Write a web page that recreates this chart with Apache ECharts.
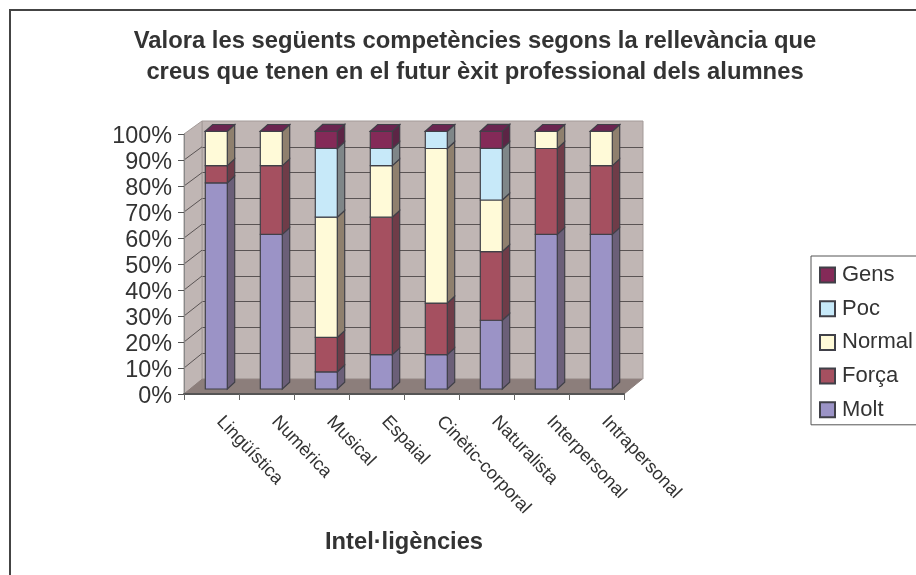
<!DOCTYPE html>
<html><head><meta charset="utf-8">
<style>html,body{margin:0;padding:0;background:#fff}#c{width:916px;height:575px}</style>
<script src="https://cdn.jsdelivr.net/npm/echarts@6/dist/echarts.min.js"></script>
</head><body><div id="c"></div>
<script>
const categories = ['Lingüística','Numèrica','Musical','Espaial','Cinètic-corporal','Naturalista','Interpersonal','Intrapersonal'];
const molt   = [80, 60, 6.67, 13.33, 13.33, 26.67, 60, 60];
const forca  = [6.67, 26.67, 13.33, 53.33, 20, 26.67, 33.33, 26.67];
const normal = [13.33, 13.33, 46.67, 20, 60, 20, 6.67, 13.33];
const poc    = [0, 0, 26.67, 6.67, 6.67, 20, 0, 0];
const gens   = [0, 0, 6.67, 6.67, 0, 6.67, 0, 0];
const seriesNames = ['Molt','Força','Normal','Poc','Gens'];
const seriesValues = [molt, forca, normal, poc, gens];
const faceColors = ['#9b93c6','#a55060','#fffad8','#c7e9f9','#842a58'];
const sideColors = ['#6b5f78','#6f3c48','#8f806e','#7f8688','#5c2545'];
const topColor = '#6b2550';
const edge = '#404048';
const barW = 22, bdx = 7.4, bdy = -6.8;

const chart = echarts.init(document.getElementById('c'), null, {renderer:'canvas'});

const stacked = seriesValues.map((vals, s) => vals.map((v, i) => {
  let base = 0;
  for (let k = 0; k < s; k++) base += seriesValues[k][i];
  return [i, base, base + v];
}));

function barItem(s) {
  return function (params, api) {
    const c = api.coord([api.value(0), api.value(1)]);
    const t = api.coord([api.value(0), api.value(2)]);
    const x1 = c[0] - barW / 2, x2 = c[0] + barW / 2, y0 = c[1], y1 = t[1];
    const st = {stroke: edge, lineWidth: 1.2};
    const children = [];
    if (y0 - y1 > 0.1) {
      children.push({type:'polygon', shape:{points:[[x2,y0],[x2+bdx,y0+bdy],[x2+bdx,y1+bdy],[x2,y1]]}, style:Object.assign({fill:sideColors[s]}, st)});
      children.push({type:'rect', shape:{x:x1,y:y1,width:barW,height:y0-y1}, style:Object.assign({fill:faceColors[s]}, st)});
    }
    if (s === seriesValues.length - 1) {
      children.push({type:'polygon', shape:{points:[[x1,y1],[x1+bdx,y1+bdy],[x2+bdx,y1+bdy],[x2,y1]]}, style:Object.assign({fill:topColor}, st)});
    }
    return {type:'group', children};
  };
}

// side wall and floor, from the front plane axes to the back wall
function shellItem(params, api) {
  const p00 = api.coord([0, 0]), p01 = api.coord([0, 100]), p10 = api.coord([categories.length, 0]);
  const dx = 18, dyb = -14.7, dyt = -13;
  const children = [
    {type:'polygon', shape:{points:[p00,p01,[p01[0]+dx,p01[1]+dyt],[p00[0]+dx,p00[1]+dyb]]}, style:{fill:'#c0b6b4', stroke:'#a39a98', lineWidth:1}},
    {type:'polygon', shape:{points:[p00,p10,[p10[0]+dx,p10[1]+dyb],[p00[0]+dx,p00[1]+dyb]]}, style:{fill:'#8c7e7b', stroke:'#8c7e7b', lineWidth:1}}
  ];
  for (let v = 10; v <= 90; v += 10) {
    const p = api.coord([0, v]);
    const d = dyb + (dyt - dyb) * v / 100;
    children.push({type:'line', shape:{x1:p[0], y1:p[1], x2:p[0]+dx, y2:p[1]+d}, style:{stroke:'#5a5454', lineWidth:1}});
  }
  return {type:'group', children};
}

const xHidden = {type:'category', data:categories, show:false};
const yHidden = {type:'value', min:0, max:100, interval:10, show:false};

const option = {
  animation:false,
  backgroundColor:'#fff',
  textStyle:{fontFamily:'Liberation Sans'},
  title:{
    text:'Valora les següents competències segons la rellevància que\ncreus que tenen en el futur èxit professional dels alumnes',
    left:470, top:21, textAlign:'center',
    textStyle:{fontSize:23.8, fontWeight:'bold', color:'#333', lineHeight:31, fontFamily:'Liberation Sans'}
  },
  legend:{
    orient:'vertical', left:811, top:256,
    data:['Gens','Poc','Normal','Força','Molt'],
    itemWidth:15, itemHeight:15, itemGap:11.7, padding:[8,40,4,8],
    borderColor:'#555', borderWidth:1, backgroundColor:'#fff',
    icon:'rect',
    textStyle:{fontSize:22, color:'#333', padding:[0,0,0,2]}
  },
  grid:[
    {left:184, right:292, top:134, bottom:181, show:false},
    {left:202, right:273, top:121, bottom:196, show:true, backgroundColor:'#c0b6b4', borderColor:'#a39a98', borderWidth:1},
    {left:188.8, right:287.2, top:131.3, bottom:186, show:false},
    {left:184, right:292, top:134, bottom:181, show:false},
    {left:184, right:292, top:136.5, bottom:178.5, show:false}
  ],
  xAxis:[
    {type:'category', gridIndex:0, data:categories, boundaryGap:true, z:5,
     axisLine:{lineStyle:{color:'#555', width:2}},
     axisTick:{show:true, alignWithLabel:false, length:6, lineStyle:{color:'#666'}},
     axisLabel:{rotate:-46.5, fontSize:18.2, color:'#333', margin:16, interval:0, padding:[0,0,0,12]},
     name:'Intel·ligències', nameLocation:'center', nameGap:136,
     nameTextStyle:{fontSize:23.7, fontWeight:'bold', color:'#333'}},
    Object.assign({gridIndex:1}, xHidden),
    Object.assign({gridIndex:2}, xHidden),
    {type:'value', gridIndex:3, min:0, max:categories.length, show:false},
    Object.assign({gridIndex:4}, xHidden)
  ],
  yAxis:[
    {type:'value', gridIndex:0, min:0, max:100, interval:10, z:5,
     axisLine:{show:true, lineStyle:{color:'#888', width:1}},
     axisTick:{show:true, length:6, lineStyle:{color:'#555'}},
     axisLabel:{show:false},
     splitLine:{show:false}},
    {type:'value', gridIndex:1, min:0, max:100, interval:10,
     axisLine:{show:false}, axisTick:{show:false}, axisLabel:{show:false},
     splitLine:{show:true, showMaxLine:false, showMinLine:false, lineStyle:{color:'#5a5454', width:1}}},
    Object.assign({gridIndex:2}, yHidden),
    Object.assign({gridIndex:3}, yHidden),
    {type:'value', gridIndex:4, min:0, max:100, interval:10, z:5,
     axisLine:{show:false}, axisTick:{show:false},
     axisLabel:{formatter:'{value}%', fontSize:23.4, color:'#333', margin:12},
     splitLine:{show:false}}
  ],
  series:[
    {type:'custom', silent:true, xAxisIndex:3, yAxisIndex:3, renderItem:shellItem, data:[[0,0]], z:1, clip:false},
  ].concat(seriesNames.map((name, s) => ({
    type:'custom', name, xAxisIndex:2, yAxisIndex:2,
    renderItem:barItem(s), encode:{x:0, y:[1,2]},
    data:stacked[s], z:3, clip:false,
    itemStyle:{color:faceColors[s], borderColor:edge, borderWidth:1}
  })))
};
chart.setOption(option);

// outer chart frame
chart.setOption({graphic:[{type:'rect', z:-1, silent:true, shape:{x:10,y:10,width:930,height:600},
  style:{fill:'none', stroke:'#444', lineWidth:2}}]});
</script></body></html>
